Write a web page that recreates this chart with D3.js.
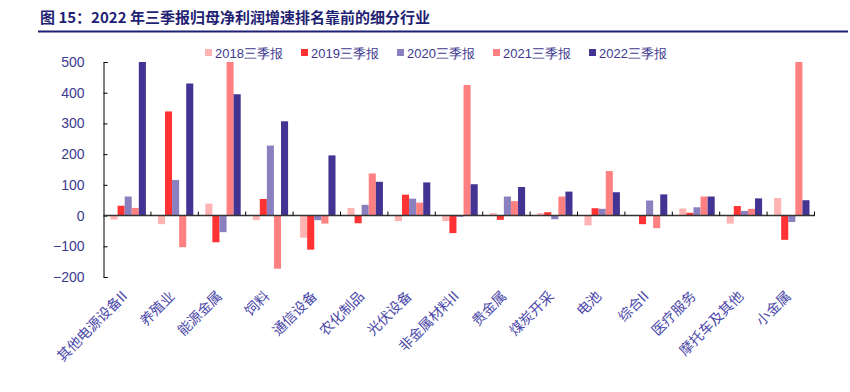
<!DOCTYPE html>
<html>
<head>
<meta charset="utf-8">
<script src="https://cdn.jsdelivr.net/npm/d3@7"></script>
<style>
  body { margin: 0; background: #fff; }
  svg { display: block; }
</style>
</head>
<body>
<div id="chart"></div>
<script>
const categories = ["其他电源设备II", "养殖业", "能源金属", "饲料", "通信设备", "农化制品", "光伏设备",
  "非金属材料II", "贵金属", "煤炭开采", "电池", "综合II", "医疗服务", "摩托车及其他", "小金属"];
const seriesNames = ["2018三季报", "2019三季报", "2020三季报", "2021三季报", "2022三季报"];
const s2018 = [-13, -28, 39, -15, -72, 25, -18, -18, 8, 8, -32, 0, 23, -26, 57];
const s2019 = [32, 339, -87, 54, -111, -25, 68, -57, -14, 11, 24, -28, 9, 31, -79];
const s2020 = [62, 116, -54, 228, -15, 35, 55, -4, 62, -12, 22, 49, 27, 15, -21];
const s2021 = [25, -103, 500, -173, -26, 137, 42, 425, 47, 62, 145, -41, 62, 22, 500];
const s2022 = [500, 430, 395, 307, 196, 110, 108, 102, 93, 78, 76, 69, 62, 56, 50];
const yTicks = [-200, -100, 0, 100, 200, 300, 400, 500];

const colors = ["#ffb3b3", "#ff3333", "#8a80c0", "#ff8080", "#433494"];
const navy = "#3c3a8e";
const series = [s2018, s2019, s2020, s2021, s2022];

const W = 850, H = 392;
const svg = d3.select("#chart").append("svg")
  .attr("width", W).attr("height", H)
  .style("font-family", "Liberation Sans, Arial, sans-serif");

// title
svg.append("text")
  .attr("x", 40).attr("y", 23)
  .style("font-family", "Noto Sans CJK SC, sans-serif")
  .style("font-weight", "bold")
  .style("font-size", "15px")
  .attr("fill", "#1f1f74")
  .text("图 15：2022 年三季报归母净利润增速排名靠前的细分行业");
svg.append("line")
  .attr("x1", 38).attr("x2", 848).attr("y1", 31.5).attr("y2", 31.5)
  .attr("stroke", "#1f1f74").attr("stroke-width", 2);

// scales
const x0 = d3.scaleBand().domain(categories).range([103.5, 814.5]).padding(0);
const x1 = d3.scaleBand().domain(seriesNames).range([7, x0.bandwidth() - 5]).padding(0);
const y = d3.scaleLinear().domain([-200, 500]).range([277, 62]);

// legend
const legend = svg.append("g");
seriesNames.forEach((name, i) => {
  const lx = 205 + i * 96;
  legend.append("rect").attr("x", lx).attr("y", 49).attr("width", 7).attr("height", 7).attr("fill", colors[i]);
  legend.append("text").attr("x", lx + 10).attr("y", 57.5)
    .style("font-size", "13px").attr("fill", navy).text(name);
});

// bars
const groups = svg.append("g").selectAll("g")
  .data(categories)
  .join("g")
  .attr("transform", d => `translate(${x0(d)},0)`);

groups.selectAll("rect")
  .data((d, ci) => seriesNames.map((s, si) => ({ s, si, v: series[si][ci] })))
  .join("rect")
  .attr("x", d => x1(d.s))
  .attr("width", x1.bandwidth())
  .attr("y", d => y(Math.max(0, d.v)))
  .attr("height", d => Math.abs(y(d.v) - y(0)))
  .attr("fill", d => colors[d.si]);

// y axis
const yAxis = svg.append("g")
  .attr("transform", "translate(103.5,0)")
  .call(d3.axisRight(y).tickValues(yTicks).tickSize(4).tickFormat(d => d < 0 ? "−" + Math.abs(d) : d));
yAxis.select(".domain").attr("stroke", "#000");
yAxis.selectAll(".tick line").attr("stroke", "#000");
yAxis.selectAll(".tick text")
  .attr("x", -19).attr("text-anchor", "end")
  .style("font-size", "14px").attr("fill", navy);

// x axis (zero line)
svg.append("line")
  .attr("x1", 103.5).attr("x2", 815).attr("y1", y(0)).attr("y2", y(0))
  .attr("stroke", "#333").attr("stroke-width", 1.5);
svg.append("g").selectAll("line")
  .data(categories.slice(1).map(c => x0(c)).concat([x0.range()[1]]))
  .join("line")
  .attr("x1", d => d).attr("x2", d => d)
  .attr("y1", y(0) - 4).attr("y2", y(0))
  .attr("stroke", "#000");

// category labels
svg.append("g").selectAll("text")
  .data(categories)
  .join("text")
  .attr("transform", d => `translate(${x0(d) + x0.bandwidth() / 2 + 1},${297}) rotate(-45)`)
  .attr("text-anchor", "end")
  .style("font-family", "Noto Sans CJK SC, sans-serif")
  .style("font-size", "14px")
  .attr("fill", "#4a48a8")
  .text(d => d);
</script>
</body>
</html>
